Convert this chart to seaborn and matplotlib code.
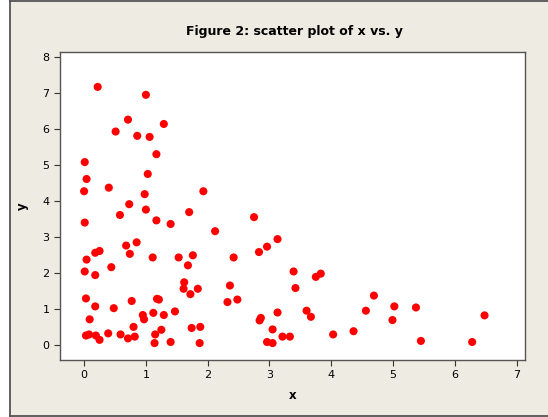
import numpy as np
import pandas as pd
import seaborn as sns
import matplotlib.pyplot as plt
from matplotlib.patches import Rectangle
from matplotlib.lines import Line2D

# values
x_vals = [0.22, 1.00, 0.71, 0.51, 0.86, 1.06, 1.29, 1.17, 0.01, 0.04, 1.03, 0.40,
          0.00, 0.98, 1.93, 0.73, 0.58, 1.00, 1.70, 0.01, 1.17, 1.40, 2.12, 0.85,
          0.68, 0.74, 0.18, 0.25, 0.04, 1.11, 1.53, 1.76, 1.68, 0.01, 0.18, 0.44,
          1.62, 1.61, 1.84, 1.72, 0.03, 0.77, 1.18, 1.21, 0.18, 0.48, 0.09, 0.95,
          0.97, 1.12, 1.29, 1.47, 0.80, 1.88, 1.74, 1.25, 0.03, 0.08, 0.19, 0.39,
          0.59, 1.15, 0.25, 0.71, 0.82, 1.14, 1.40, 1.87,
          2.75, 3.13, 2.96, 2.83, 2.42, 3.39, 3.83, 3.75, 2.36, 3.42, 2.32, 2.48,
          3.60, 3.67, 4.56, 3.13, 2.86, 2.84, 3.05, 3.21, 3.33, 2.96, 3.05, 4.03,
          4.36, 4.69, 5.02, 5.37, 4.99, 6.48, 5.45, 6.28]
y_vals = [7.17, 6.95, 6.26, 5.93, 5.81, 5.78, 6.14, 5.30, 5.08, 4.61, 4.75, 4.37,
          4.27, 4.19, 4.27, 3.91, 3.61, 3.76, 3.69, 3.40, 3.46, 3.36, 3.16, 2.85,
          2.76, 2.53, 2.56, 2.61, 2.37, 2.43, 2.43, 2.49, 2.21, 2.04, 1.94, 2.16,
          1.74, 1.56, 1.56, 1.41, 1.29, 1.22, 1.28, 1.26, 1.07, 1.02, 0.71, 0.83,
          0.71, 0.89, 0.83, 0.93, 0.50, 0.50, 0.47, 0.42, 0.26, 0.29, 0.26, 0.32,
          0.29, 0.29, 0.14, 0.18, 0.23, 0.05, 0.08, 0.05,
          3.55, 2.94, 2.73, 2.58, 2.43, 2.04, 1.98, 1.89, 1.65, 1.58, 1.19, 1.26,
          0.95, 0.78, 0.95, 0.90, 0.75, 0.68, 0.43, 0.23, 0.23, 0.08, 0.05, 0.29,
          0.38, 1.37, 1.07, 1.04, 0.69, 0.82, 0.11, 0.08]

df = pd.DataFrame({"x": x_vals, "y": y_vals})

bg = "#EEEBE2"
fig = plt.figure(figsize=(5.48, 4.17), dpi=100, facecolor=bg)
# white strip on the left and the graph window edges (left, top, bottom)
lx = 9.5 / 548
fig.patches.append(Rectangle((0, 0), lx, 1, transform=fig.transFigure,
                             facecolor="white", edgecolor="none"))
for xs, ys in [([lx, lx], [0, 1]), ([lx, 1], [0.998, 0.998]), ([lx, 1], [0.003, 0.003])]:
    fig.lines.append(Line2D(xs, ys, transform=fig.transFigure, color="#555555", lw=1.3))

ax = fig.add_axes([0.1095, 0.1367, 0.848, 0.7386])

sns.scatterplot(data=df, x="x", y="y", ax=ax, color="#FF0000", s=34,
                edgecolor="none", linewidth=0)

ax.set_xlim(-0.39, 7.13)
ax.set_ylim(-0.42, 8.14)
ax.set_xticks(range(0, 8))
ax.set_yticks(range(0, 9))
ax.tick_params(direction="out", length=4, width=0.8, colors="#333333",
               labelcolor="black", labelsize=8)
for s in ax.spines.values():
    s.set_color("#555555")
    s.set_linewidth(1.0)

ax.set_xlabel("x", fontsize=8.5, fontweight="bold", labelpad=6)
ax.set_ylabel("y", fontsize=8.5, fontweight="bold", labelpad=10)
fig.text(0.537, 0.925, "Figure 2: scatter plot of x vs. y", ha="center", va="center",
         fontsize=9, fontweight="bold")

fig.savefig("out.png", dpi=100, facecolor=bg)
